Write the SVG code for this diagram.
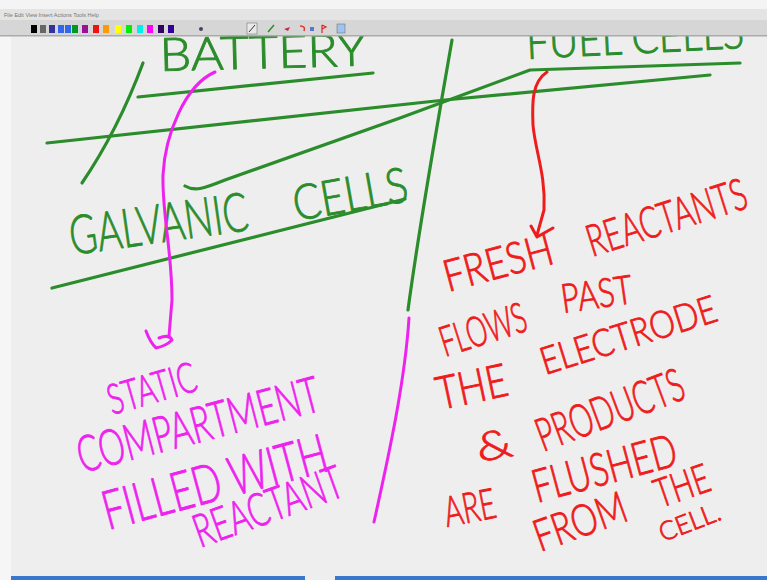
<svg xmlns="http://www.w3.org/2000/svg" width="767" height="580" viewBox="0 0 767 580">
<style>
.g{fill:none;stroke:#2b8c2b;stroke-width:3.2;stroke-linecap:round;stroke-linejoin:round}
.m{fill:none;stroke:#ee22ee;stroke-width:3;stroke-linecap:round;stroke-linejoin:round}
.r{fill:none;stroke:#ee1c1c;stroke-width:3;stroke-linecap:round;stroke-linejoin:round}
text{font-family:Lato,"Open Sans","Liberation Sans",sans-serif;font-weight:300;stroke-width:0.9;stroke-linejoin:round}
.tg{fill:#2b8c2b;stroke:#2b8c2b}
.tm{fill:#ee22ee;stroke:#ee22ee}
.tr{fill:#ee1c1c;stroke:#ee1c1c}
.sw{stroke:#666;stroke-width:0.5}
</style>
<rect x="0" y="0" width="767" height="580" fill="#eeeeee"/>
<rect x="0" y="36" width="11" height="544" fill="#f6f6f6"/>

<g id="texts-green">
<text class="tg" font-size="46" textLength="207" lengthAdjust="spacingAndGlyphs" transform="translate(160,71) rotate(-1.5)">BATTERY</text>
<text class="tg" font-size="46" textLength="218" lengthAdjust="spacingAndGlyphs" transform="translate(527,59) rotate(-2.9)">FUEL CELLS</text>
<text class="tg" font-size="54" textLength="180" lengthAdjust="spacingAndGlyphs" transform="translate(72,255) rotate(-8)">GALVANIC</text>
<text class="tg" font-size="49" textLength="116" lengthAdjust="spacingAndGlyphs" transform="translate(296,221) rotate(-10)">CELLS</text>
</g>

<g id="strokes">
<path class="g" d="M143,63 Q118,130 82,183"/>
<path class="g" d="M138,97 L373,73"/>
<path class="g" d="M47,143 L445,100 L710,75"/>
<path class="g" d="M185,186 C195,192 205,188 225,180 L400,118 Q470,92 530,70 L740,63"/>
<path class="g" d="M452,40 C440,110 420,220 408,310"/>
<path class="g" d="M52,288 L405,199"/>
<path class="m" d="M215,72 C185,85 165,135 163,175 C162,215 172,250 172,300 L169,336"/>
<path class="m" d="M146,331 Q150,342 156,348 Q166,346 172,340 Q169,334 159,338"/>
<path class="m" d="M409,318 C405,380 390,450 374,522"/>
<path class="r" d="M547,72 C532,82 532,102 533,125 C535,150 546,175 544,210 L537,235"/>
<path class="r" d="M531,226 L537,237 L553,228"/>
</g>

<g id="texts-magenta">
<text class="tm" font-size="42" textLength="91" lengthAdjust="spacingAndGlyphs" transform="translate(112,415) rotate(-16)">STATIC</text>
<text class="tm" font-size="50" textLength="249" lengthAdjust="spacingAndGlyphs" transform="translate(82,473) rotate(-14.6)">COMPARTMENT</text>
<text class="tm" font-size="54" textLength="231" lengthAdjust="spacingAndGlyphs" transform="translate(108,530) rotate(-15)">FILLED WITH</text>
<text class="tm" font-size="46" textLength="156" lengthAdjust="spacingAndGlyphs" transform="translate(200,548) rotate(-19.8)">REACTANT</text>
</g>

<g id="texts-red">
<text class="tr" font-size="44" textLength="112" lengthAdjust="spacingAndGlyphs" transform="translate(448,292) rotate(-15)">FRESH</text>
<text class="tr" font-size="44" textLength="166" lengthAdjust="spacingAndGlyphs" transform="translate(592,257) rotate(-17.5)">REACTANTS</text>
<text class="tr" font-size="42" textLength="89" lengthAdjust="spacingAndGlyphs" transform="translate(445,357) rotate(-17.6)">FLOWS</text>
<text class="tr" font-size="40" textLength="72" lengthAdjust="spacingAndGlyphs" transform="translate(563,313) rotate(-8)">PAST</text>
<text class="tr" font-size="46" textLength="72" lengthAdjust="spacingAndGlyphs" transform="translate(440,410) rotate(-12)">THE</text>
<text class="tr" font-size="38" textLength="183" lengthAdjust="spacingAndGlyphs" transform="translate(545,375) rotate(-17.4)">ELECTRODE</text>
<text class="tr" font-size="40" textLength="36" lengthAdjust="spacingAndGlyphs" transform="translate(479,462) rotate(-10)">&amp;</text>
<text class="tr" font-size="46" textLength="155" lengthAdjust="spacingAndGlyphs" transform="translate(543,452) rotate(-20.5)">PRODUCTS</text>
<text class="tr" font-size="42" textLength="52" lengthAdjust="spacingAndGlyphs" transform="translate(447,527) rotate(-11)">ARE</text>
<text class="tr" font-size="46" textLength="148" lengthAdjust="spacingAndGlyphs" transform="translate(537,503) rotate(-15)">FLUSHED</text>
<text class="tr" font-size="44" textLength="96" lengthAdjust="spacingAndGlyphs" transform="translate(540,552) rotate(-19.6)">FROM</text>
<text class="tr" font-size="40" textLength="56" lengthAdjust="spacingAndGlyphs" transform="translate(660,508) rotate(-19)">THE</text>
<text class="tr" font-size="26" textLength="64" lengthAdjust="spacingAndGlyphs" transform="translate(663,542) rotate(-21)">CELL.</text>
</g>

<g id="window-chrome">
<rect x="0" y="0" width="767" height="9" fill="#f4f4f4"/>
<rect x="0" y="9" width="767" height="11" fill="#e4e4e4"/>
<text x="4" y="17" font-size="5.5" fill="#777" style="font-family:'Liberation Sans',sans-serif;font-weight:400;stroke:none">File  Edit  View  Insert  Actions  Tools  Help</text>
<rect x="0" y="20" width="767" height="16" fill="#d6d6d6"/>
<rect x="0" y="35" width="767" height="1.5" fill="#aaaaaa"/>
<g id="palette">
<rect x="31" y="25" width="6" height="8" fill="#000000"/>
<rect x="40" y="25" width="6" height="8" fill="#666666"/>
<rect x="49" y="25" width="6" height="8" fill="#333399"/>
<rect x="58" y="25" width="6" height="8" fill="#3366ee"/>
<rect x="65" y="25" width="6" height="8" fill="#3366ee"/>
<rect x="72" y="25" width="6" height="8" fill="#009922"/>
<rect x="82" y="25" width="6" height="8" fill="#991199"/>
<rect x="93" y="25" width="6" height="8" fill="#ee1111"/>
<rect x="103" y="25" width="6" height="8" fill="#ff9900"/>
<rect x="115" y="25" width="6" height="8" fill="#ffff00"/>
<rect x="126" y="25" width="6" height="8" fill="#00ee00"/>
<rect x="137" y="25" width="6" height="8" fill="#00eeee"/>
<rect x="147" y="25" width="6" height="8" fill="#ff00ff"/>
<rect x="158" y="25" width="6" height="8" fill="#330066"/>
<rect x="168" y="25" width="6" height="8" fill="#330099"/>
</g>
<circle cx="201" cy="29" r="2" fill="#444466"/>
<rect x="247" y="23" width="10" height="11" fill="#e8e8e8" class="sw"/>
<path d="M249,32 L255,25" stroke="#333" stroke-width="1"/>
<path d="M268,32 L274,25" stroke="#2b8c2b" stroke-width="1.5"/>
<path d="M284,29 L290,27 L288,31 Z" fill="#cc2255"/>
<path d="M300,26 Q306,26 304,31" stroke="#dd3333" stroke-width="1.5" fill="none"/>
<rect x="310" y="27" width="4" height="4" fill="#5577cc"/>
<path d="M322,25 L322,33 M322,25 L326,27 L322,29" stroke="#dd2222" stroke-width="1.2" fill="none"/>
<rect x="337" y="24" width="8" height="9" fill="#9fc3ee" class="sw"/>
<rect x="11" y="576" width="294" height="4" fill="#3a78d0"/>
<rect x="335" y="576" width="432" height="4" fill="#3a78d0"/>
</g>
</svg>
